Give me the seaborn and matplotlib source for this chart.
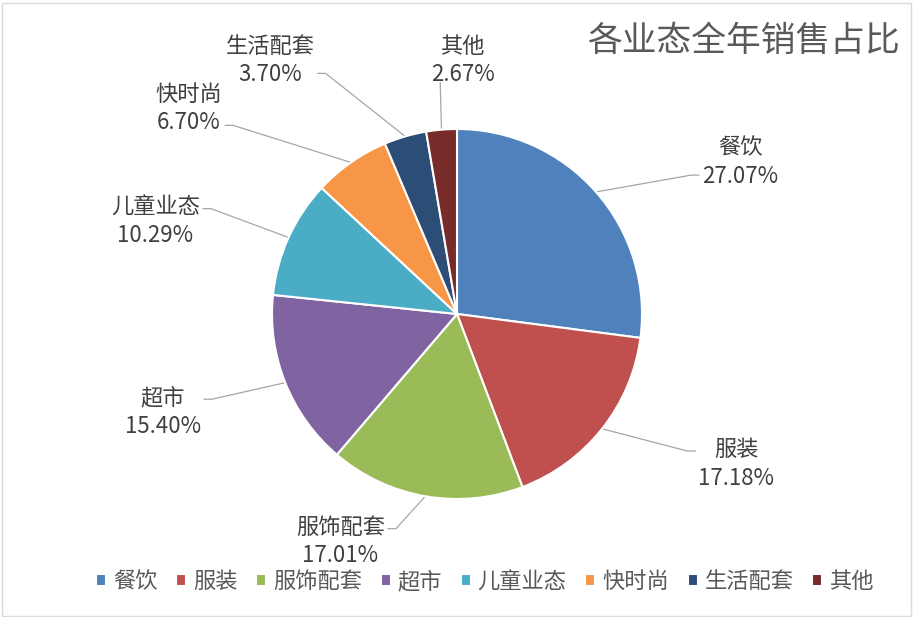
import matplotlib
matplotlib.use("Agg")
import matplotlib.pyplot as plt
import seaborn as sns
import numpy as np

# 数据
categories = ["餐饮", "服装", "服饰配套", "超市", "儿童业态", "快时尚", "生活配套", "其他"]
shares = [27.07, 17.18, 17.01, 15.40, 10.29, 6.70, 3.70, 2.67]
colors = ["#4F81BD", "#C0504D", "#9BBB59", "#8064A2", "#4BACC6", "#F79646", "#2C4D75", "#772C2A"]
title = "各业态全年销售占比"

# label centres (pie radius units) and where the leader line meets the label
label_pos = [(1.53, 0.82), (1.51, -0.81), (-0.63, -1.23), (-1.59, -0.53),
             (-1.63, 0.50), (-1.45, 1.11), (-1.01, 1.37), (0.03, 1.37)]
# (side, row): side of the label box, row 0 = first line, 1 = second line
leader_attach = [("left", 1), ("left", 0), ("right", 0), ("right", 0),
                 ("right", 0), ("right", 1.15), ("right", 1), ("bottom", 0)]

sns.set_theme(style="white")
plt.rcParams["font.family"] = ["Noto Sans CJK SC", "DejaVu Sans"]
txt = "#404040"
line_c = "#A6A6A6"

W, H = 913, 617
fig = plt.figure(figsize=(W / 100, H / 100), dpi=100)
ax = fig.add_axes([0, 0, 1, 1])
cx, cy, R = 457, 314, 185

wedges, _ = ax.pie(shares, colors=sns.color_palette(colors), startangle=90,
                   counterclock=False, radius=1,
                   wedgeprops=dict(edgecolor="white", linewidth=1.5))
ax.set_xlim(-cx / R, (W - cx) / R)
ax.set_ylim(-(H - cy) / R, cy / R)
ax.set_aspect("equal", adjustable="box")
ax.axis("off")

texts = []
for name, val, (lx, ly) in zip(categories, shares, label_pos):
    texts.append(ax.text(lx, ly, f"{name}\n{val:.2f}%", ha="center", va="center",
                         fontsize=16, color=txt, linespacing=1.3))

fig.canvas.draw()
renderer = fig.canvas.get_renderer()
inv = ax.transData.inverted()
gap, stub = 3 / R, 8 / R
for w, t, (side, row) in zip(wedges, texts, leader_attach):
    ang = np.deg2rad((w.theta1 + w.theta2) / 2)
    px, py = np.cos(ang), np.sin(ang)
    bb = t.get_window_extent(renderer)
    (x0, y0), (x1, y1) = inv.transform([(bb.x0, bb.y0), (bb.x1, bb.y1)])
    h = y1 - y0
    ry = y1 - h * (0.25 + 0.5 * row)
    if side == "left":
        sx = x0 - gap
        xs, ys = [px, sx - stub, sx], [py, ry, ry]
    elif side == "right":
        sx = x1 + gap
        xs, ys = [px, sx + stub, sx], [py, ry, ry]
    else:
        xs, ys = [px, x0 + 0.15 * (x1 - x0)], [py, y0 + 0.02]
    ax.plot(xs, ys, color=line_c, lw=0.9, zorder=0.5)

fig.text(0.986, 0.932, title, ha="right", va="center", fontsize=25, color="#595959")

fig.legend(wedges, categories, loc="center", bbox_to_anchor=(0.531, 0.057), ncol=8,
           frameon=False, fontsize=16, handlelength=0.45, handleheight=0.45,
           handletextpad=0.3, columnspacing=0.85, labelcolor="#595959")

fig.patches.append(plt.Rectangle((0.002, 0.002), 0.996, 0.993, transform=fig.transFigure,
                                 fill=False, edgecolor="#D9D9D9", lw=1))

fig.savefig("out.png", dpi=100)
